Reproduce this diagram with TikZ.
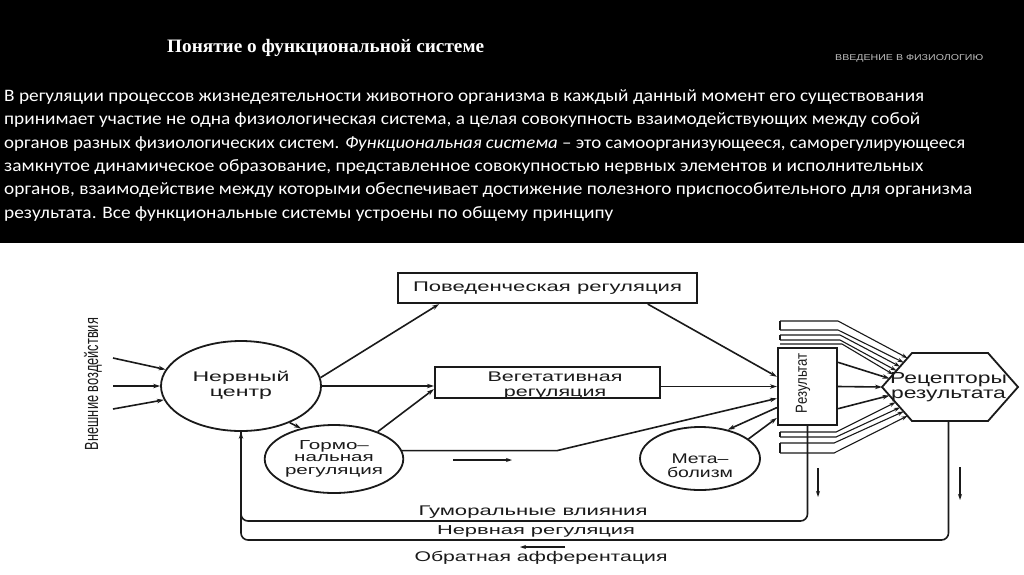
\documentclass[tikz,border=0pt]{standalone}
\usepackage{fontspec}
\usepackage{graphicx}
\setmainfont{Liberation Sans}
\newfontfamily\parafont{Carlito}
\newfontfamily\titlefont{Liberation Serif}
\newfontfamily\dgfont{Liberation Sans}
\usetikzlibrary{shapes.geometric,arrows.meta,calc}
\definecolor{ink}{HTML}{1A1A1A}
\definecolor{hdrgray}{HTML}{BFBFBF}
\newsavebox\fitbox
\newcommand\fitw[2]{\sbox\fitbox{#2}\pgfmathsetmacro\fitsc{#1/\the\wd\fitbox}\scalebox{\fitsc}[1]{\usebox\fitbox}}
\newcommand\twol[2]{\begin{tabular}{@{}c@{}}#1\\#2\end{tabular}}
\tikzset{
  ln/.style={line width=1.6pt, draw=ink},
  thin ln/.style={line width=1.1pt, draw=ink},
  arr/.style={ln, -{Stealth[length=7pt,width=4.5pt]}},
  thin arr/.style={thin ln, -{Stealth[length=6pt,width=4pt]}},
  box/.style={draw=ink, line width=2.2pt, inner sep=0pt},
  oval/.style={ellipse, draw=ink, line width=1.8pt, inner sep=0pt},
  lbl/.style={inner sep=0pt, text=ink, font=\dgfont\fontsize{14}{15}\selectfont},
  para/.style={anchor=base west, inner sep=0pt, text=white, font=\parafont\fontsize{17.5}{20}\selectfont},
}
\begin{document}
\begin{tikzpicture}[x=1pt,y=-1pt]
\useasboundingbox (0,0) rectangle (1024,574);
\fill[white] (0,0) rectangle (1024,574);
\fill[black] (0,0) rectangle (1024,243);

% header texts
\node[anchor=base west, inner sep=0pt, text=white, font=\titlefont\bfseries\fontsize{19}{20}\selectfont] (title) at (167,52) {\fitw{317}{Понятие о функциональной системе}};
\node[anchor=base west, inner sep=0pt, text=hdrgray, font=\dgfont\fontsize{8.5}{10}\selectfont] (hdr) at (835,60.5) {\fitw{148}{ВВЕДЕНИЕ В ФИЗИОЛОГИЮ}};

\node[para] (p1) at (4,101.5) {\fitw{920}{В регуляции процессов жизнедеятельности животного организма в каждый данный момент его существования}};
\node[para] (p2) at (4,124.8) {\fitw{916}{принимает участие не одна физиологическая система, а целая совокупность взаимодействующих между собой}};
\node[para] (p3) at (4,148.1) {\fitw{961}{органов разных физиологических систем. \textit{Функциональная система} – это самоорганизующееся, саморегулирующееся}};
\node[para] (p4) at (4,171.4) {\fitw{919}{замкнутое динамическое образование, представленное совокупностью нервных элементов и исполнительных}};
\node[para] (p5) at (4,194.7) {\fitw{968}{органов, взаимодействие между которыми обеспечивает достижение полезного приспособительного для организма}};
\node[para] (p6) at (4,218) {\fitw{609}{результата. Все функциональные системы устроены по общему принципу}};

% diagram nodes
\node[lbl, rotate=90, font=\dgfont\fontsize{19}{19}\selectfont] (ext) at (93,384) {\fitw{132}{Внешние воздействия}};
\node[oval, minimum width=160pt, minimum height=90pt, text=ink, font=\dgfont\fontsize{14}{15}\selectfont] (N) at (241,386) {\fitw{97}{\twol{Нервный}{центр}}};
\node[oval, minimum width=122pt, minimum height=68pt, text=ink, font=\dgfont\fontsize{13}{12.5}\selectfont] (H) at (334,459) {\fitw{98}{\begin{tabular}{@{}c@{}}Гормо–\\нальная\\регуляция\end{tabular}}};
\node[oval, minimum width=120pt, minimum height=63pt] (M) at (700,458.5) {};
\node[lbl, font=\dgfont\fontsize{14}{13}\selectfont] (Mt) at (700,468) {\fitw{66}{\twol{Мета–}{болизм}}};
\node[box, minimum width=299pt, minimum height=30pt, text=ink, font=\dgfont\fontsize{14}{15}\selectfont] (B) at (547.5,288) {\fitw{269}{Поведенческая регуляция}};
\node[box, minimum width=225pt, minimum height=31pt] (V) at (547.5,382.5) {};
\node[lbl] (Vt) at (555,385.5) {\fitw{135}{\twol{Вегетативная}{регуляция}}};
\node[box, minimum width=59pt, minimum height=77pt] (R) at (807.5,386.5) {};
\node[lbl, rotate=90, font=\dgfont\fontsize{16}{16}\selectfont] (Rt) at (803,383) {\fitw{60}{Результат}};

% receptor hexagon
\coordinate (hL) at (882,387);
\coordinate (hTL) at (912,353);
\coordinate (hTR) at (988,353);
\coordinate (hR) at (1018,387);
\coordinate (hBR) at (988,421);
\coordinate (hBL) at (912,421);
\draw[ink, line width=1.8pt] (hL) -- (hTL) -- (hTR) -- (hR) -- (hBR) -- (hBL) -- cycle;
\node[lbl, font=\dgfont\fontsize{16}{15}\selectfont] (rec) at (948.5,387.5) {\fitw{117}{\twol{Рецепторы}{результата}}};

% external inputs
\coordinate (i1) at (113,358);
\coordinate (i2) at (113,386);
\coordinate (i3) at (113,409);
\draw[arr] (i1) -- (N);
\draw[arr] (i2) -- (N);
\draw[arr] (i3) -- (N);

% main connectors
\draw[arr] (N.6) -- ($(B.south west)!0.14!(B.south east)$);
\draw[arr] (N.east) -- (N.east -| V.west);
\draw[arr] (H.32) -- ($(V.north west)!0.7!(V.south west)$);
\draw[arr] (N.-37) -- (H.137);
\coordinate (hk) at (557,452);
\draw[arr] (H.7) -- (H.7 -| hk) -- ($(R.north west)!0.65!(R.south west)$);
\draw[arr] ($(B.south west)!0.833!(B.south east)$) -- ($(R.north west)!0.377!(R.south west)$);
\draw[arr] (V.east |- R.west) -- (R.west);
\draw[arr] ($(R.north west)!0.766!(R.south west)$) -- (M.46);
\draw[arr] (M.22) -- ($(R.north west)!0.896!(R.south west)$);

% result -> receptors
\draw[arr] ($(R.north east)!0.195!(R.south east)$) -- ($(hL)!0.25!(hTL)$);
\draw[arr] (R.east) -- (hL);
\draw[arr] ($(R.north east)!0.78!(R.south east)$) -- ($(hL)!0.25!(hBL)$);

% parallel parameter lines above
\coordinate (t1) at (780,321); \coordinate (t2) at (780,330);
\coordinate (t3) at (780,335); \coordinate (t4) at (780,340);
\coordinate (t5) at (780,344);
\draw[thin ln] (t1) -- (t2);
\draw[thin ln] (t3) -- (t4);
\draw[thin arr] (t1) -- ++(58,0) -- ($(hL)!0.85!(hTL)$);
\draw[thin arr] (t2) -- ++(58,0) -- ($(hL)!0.72!(hTL)$);
\draw[thin arr] (t3) -- ++(60,0) -- ($(hL)!0.6!(hTL)$);
\draw[thin arr] (t4) -- ++(60,0) -- ($(hL)!0.48!(hTL)$);
\draw[thin arr] (t5) -- ++(62,0) -- ($(hL)!0.37!(hTL)$);

% parallel parameter lines below
\coordinate (b1) at (780,432); \coordinate (b2) at (780,437);
\coordinate (b3) at (780,443); \coordinate (b4) at (780,453);
\draw[thin ln] (b1) -- (b2);
\draw[thin ln] (b3) -- (b4);
\draw[thin arr] (b1) -- ++(56,0) -- ($(hL)!0.45!(hBL)$);
\draw[thin arr] (b2) -- ++(56,0) -- ($(hL)!0.6!(hBL)$);
\draw[thin arr] (b3) -- ++(54,0) -- ($(hL)!0.72!(hBL)$);
\draw[thin arr] (b4) -- ++(54,0) -- ($(hL)!0.85!(hBL)$);

% feedback loops
\coordinate (yA) at (0,521);
\coordinate (yB) at (0,540);
\draw[ln, rounded corners=7pt] (hBL -| rec) -- (rec |- yB) -- (N.south |- yB) -- (N.south);
\draw[arr, rounded corners=7pt] (R.south) -- (R.south |- yA) -- (N.south |- yA) -- (N.south);

% direction indicator arrows
\coordinate (fa1) at (453,460); \coordinate (fa2) at (512,460);
\coordinate (fb1) at (818,468); \coordinate (fb2) at (818,497);
\coordinate (fc1) at (960,467); \coordinate (fc2) at (960,500);
\coordinate (fd1) at (565,547); \coordinate (fd2) at (520,547);
\draw[thin arr] (fa1) -- (fa2);
\draw[thin arr] (fb1) -- (fb2);
\draw[thin arr] (fc1) -- (fc2);
\draw[thin arr] (fd1) -- (fd2);

% bottom labels
\node[lbl] (gum) at (533,512) {\fitw{229}{Гуморальные влияния}};
\node[lbl, font=\dgfont\fontsize{13}{14}\selectfont] (nerv) at (536,531) {\fitw{198}{Нервная регуляция}};
\node[lbl] (obr) at (541,558) {\fitw{253}{Обратная афферентация}};
\end{tikzpicture}
\end{document}
